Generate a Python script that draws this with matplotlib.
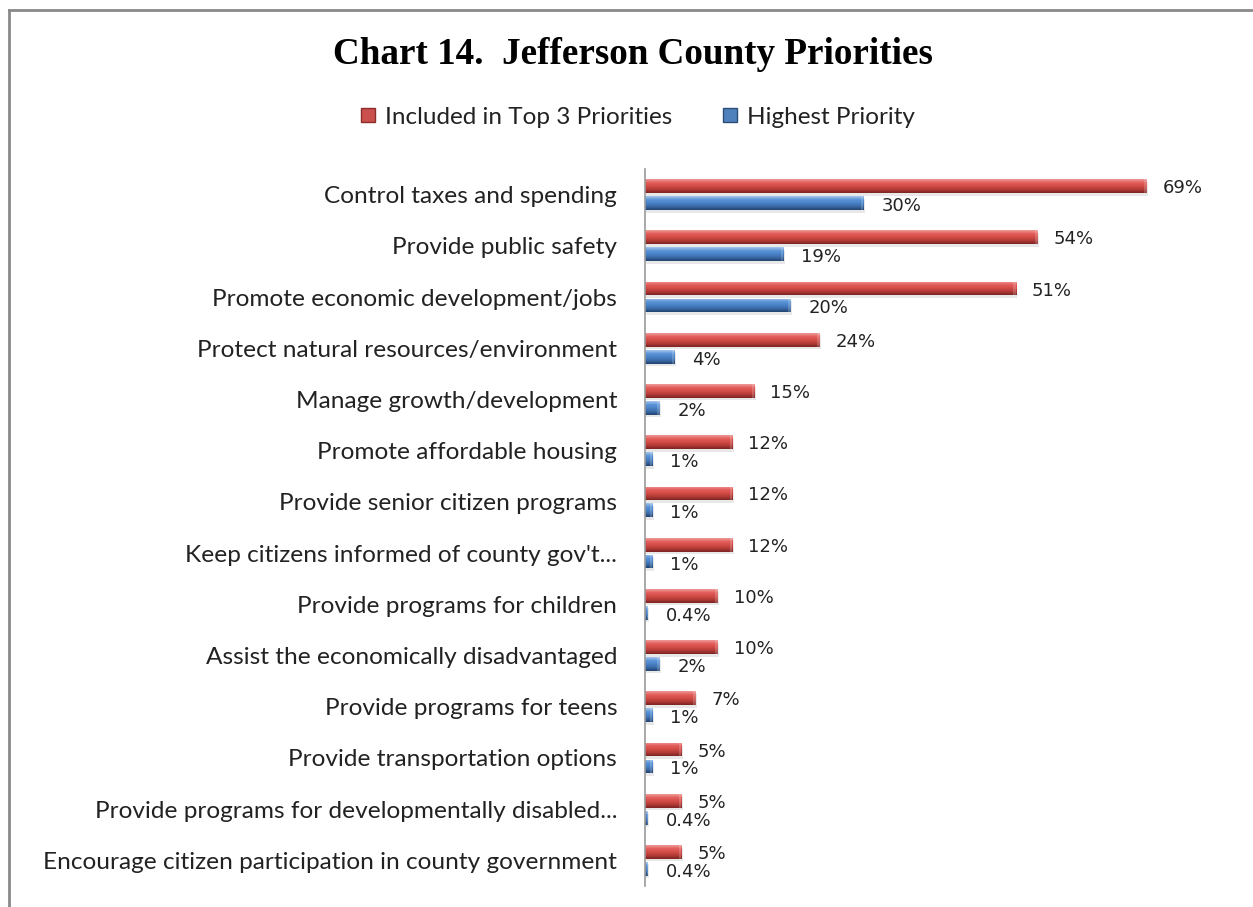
import numpy as np
import matplotlib
matplotlib.use("Agg")
import matplotlib.pyplot as plt
from matplotlib.colors import LinearSegmentedColormap
from matplotlib.lines import Line2D

# priorities, listed top to bottom
categories = [
    "Control taxes and spending",
    "Provide public safety",
    "Promote economic development/jobs",
    "Protect natural resources/environment",
    "Manage growth/development",
    "Promote affordable housing",
    "Provide senior citizen programs",
    "Keep citizens informed of county gov't...",
    "Provide programs for children",
    "Assist the economically disadvantaged",
    "Provide programs for teens",
    "Provide transportation options",
    "Provide programs for developmentally disabled...",
    "Encourage citizen participation in county government",
]
top3 = [69, 54, 51, 24, 15, 12, 12, 12, 10, 10, 7, 5, 5, 5]
highest = [30, 19, 20, 4, 2, 1, 1, 1, 0.4, 2, 1, 1, 0.4, 0.4]
series_names = ["Included in Top 3 Priorities", "Highest Priority"]

red_cmap = LinearSegmentedColormap.from_list(
    "red3d", ["#ee9d9a", "#e35e5a", "#d24c48", "#b33a37", "#7a2422"])
blue_cmap = LinearSegmentedColormap.from_list(
    "blue3d", ["#a8c8ee", "#5a93d7", "#4a83c8", "#3a69a7", "#21426d"])

fig = plt.figure(figsize=(12.53, 9.07), dpi=100)
ax = fig.add_axes([645 / 1253, 1 - 886 / 907, 582 / 1253, 717 / 907])

y = np.arange(len(categories))
off = 0.165
h = 0.27


def shaded_bars(vals, ypos, cmap):
    bars = ax.barh(ypos, vals, height=h, color="none", edgecolor="none")
    grad = np.linspace(0, 1, 64).reshape(-1, 1)
    for b in bars:
        x0, y0 = b.get_x(), b.get_y()
        w, hh = b.get_width(), b.get_height()
        # faint drop shadow under the bar
        ax.add_patch(plt.Rectangle((x0 + 0.2, y0 + 0.05), w, hh,
                                   color="#000000", alpha=0.09, lw=0, zorder=1))
        im = ax.imshow(grad, cmap=cmap, aspect="auto", zorder=2,
                       extent=[x0, x0 + w, y0 + hh, y0], interpolation="bicubic")
        im.set_clip_path(b)
        # lighter bevel at the rounded end
        cap = min(0.35, w * 0.3)
        ax.add_patch(plt.Rectangle((x0 + w - cap, y0), cap, hh,
                                   color="white", alpha=0.18, lw=0, zorder=3))
    return bars


shaded_bars(top3, y - off, red_cmap)
shaded_bars(highest, y + off, blue_cmap)

for i in range(len(categories)):
    ax.annotate(f"{top3[i]:g}%", (top3[i], y[i] - off), xytext=(16, -2),
                textcoords="offset pixels", va="center", ha="left",
                fontsize=13, family="DejaVu Sans", color="#222222")
    ax.annotate(f"{highest[i]:g}%", (highest[i], y[i] + off), xytext=(18, -3),
                textcoords="offset pixels", va="center", ha="left",
                fontsize=13, family="DejaVu Sans", color="#222222")

ax.set_xlim(0, 80)
ax.set_ylim(len(categories) - 0.5, -0.5)
ax.set_yticks(y)
ax.set_yticklabels(categories, family="Lato", fontsize=17.6, color="#222222")
ax.tick_params(axis="y", length=0, pad=20)
ax.set_xticks([])
for s in ["top", "right", "bottom"]:
    ax.spines[s].set_visible(False)
ax.spines["left"].set_color("#999999")
ax.spines["left"].set_linewidth(1.2)

fig.text(633 / 1253, 1 - 54 / 907, "Chart 14.  Jefferson County Priorities",
         ha="center", va="center", family="Liberation Serif",
         fontweight="bold", fontsize=26.7)

handles = [
    Line2D([], [], marker="s", ls="none", markersize=10,
           markerfacecolor="#c9504c", markeredgecolor="#8c2d2b"),
    Line2D([], [], marker="s", ls="none", markersize=10,
           markerfacecolor="#4f81bd", markeredgecolor="#2c4d75"),
]
leg = fig.legend(handles, series_names, loc="center",
                 bbox_to_anchor=(637 / 1253, 1 - 117 / 907), ncol=2,
                 frameon=False, handlelength=0.7, handletextpad=0.35,
                 columnspacing=2.0, prop={"family": "Lato", "size": 17.5})
for t in leg.get_texts():
    t.set_color("#222222")

# outer chart border (only top and left edges fall on the canvas)
fig.add_artist(Line2D([9 / 1253, 1], [1 - 9.5 / 907, 1 - 9.5 / 907],
                      transform=fig.transFigure, color="#8a8a8a", lw=2))
fig.add_artist(Line2D([9 / 1253, 9 / 1253], [0, 1 - 9.5 / 907],
                      transform=fig.transFigure, color="#8a8a8a", lw=2))

fig.savefig("out.png", dpi=100, facecolor="white")
